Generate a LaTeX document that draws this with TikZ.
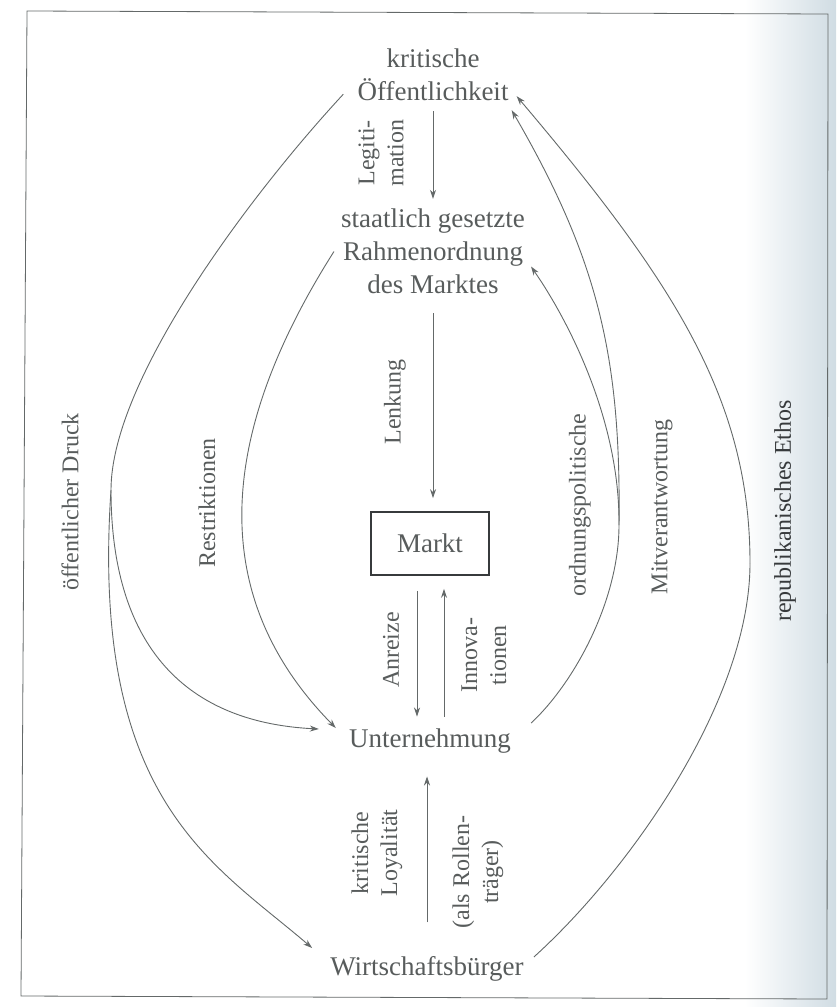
\documentclass[tikz,border=0pt]{standalone}
\usepackage{fontspec}
\setmainfont{Liberation Serif}
\usetikzlibrary{arrows.meta,calc}
\definecolor{txt}{RGB}{88,92,92}
\definecolor{ln}{RGB}{100,105,105}
\definecolor{dark}{RGB}{55,58,60}
\definecolor{pageblue}{RGB}{208,220,227}
\begin{document}
\begin{tikzpicture}[x=1pt,y=-1pt,
  every node/.style={text=txt, inner sep=0pt},
  big/.style={font=\fontsize{27}{33}\selectfont, align=center},
  lab/.style={font=\fontsize{24}{29}\selectfont, align=center, rotate=90},
  con/.style={draw=ln, line width=0.9pt},
  arr/.style={con, -{Stealth[length=9pt,width=6pt]}}]
\useasboundingbox (0,0) rectangle (836,1007);
\shade[left color=white, right color=pageblue] (745,0) rectangle (836,1007);
\draw[ln, line width=0.8pt] (27,11) -- (828,14) -- (827,999) -- (21,996) -- cycle;

% main nodes
\node[big] (Oe) at (433,75) {kritische\\Öffentlichkeit};
\node[big] (R) at (433,251.5) {staatlich gesetzte\\Rahmenordnung\\des Marktes};
\node[draw=dark, line width=1.6pt, minimum width=118pt, minimum height=63pt,
      font=\fontsize{27}{33}\selectfont] (M) at (430,543.5) {Markt};
\node[big] (U) at (430,741) {Unternehmung};
\node[big] (W) at (427,969) {Wirtschaftsbürger};

% straight arrows
\draw[arr, shorten <=10pt, shorten >=10pt] (Oe) -- (R);
\draw[arr, shorten <=19pt, shorten >=13pt] (R.south) -- (R.south |- M.north);
\draw[arr, shorten <=15pt, shorten >=12pt] ([xshift=-13pt]M.south) -- ([xshift=-13pt]M.south |- U.north);
\draw[arr, shorten <=12pt, shorten >=13pt] ([xshift=14pt]M.south |- U.north) -- ([xshift=14pt]M.south);
\draw[arr, shorten <=34pt, shorten >=23pt] (W.north) -- (W.north |- U.south);

% fork points
\coordinate (F) at (111,490);
\coordinate (G) at (619,525);
\coordinate (H) at (750,563);

% oeffentlicher Druck
\draw[con] ([xshift=-14pt,yshift=7pt]Oe.south west) .. controls (250,195) and (111,380) .. (F);
\draw[arr] (F) .. controls (111,640) and (180,722) .. ([xshift=-30pt,yshift=12pt]U.west);
\draw[arr] (F) .. controls (90,800) and (213,863) .. ([xshift=-18pt,yshift=21pt]W.west);

% Restriktionen
\draw[arr] ([xshift=-7pt]R.west) .. controls (215,439) and (208,598) .. ([xshift=-13pt,yshift=13pt]U.west);

% ordnungspolitische
\draw[con] ([xshift=20pt,yshift=18pt]U.east) .. controls (575,682) and (619,600) .. (G);
\draw[arr] (G) .. controls (620,420) and (568,320) .. ([xshift=6pt,yshift=-15pt]R.east);
\draw[arr] (G) .. controls (621,360) and (599.5,261.5) .. ([xshift=3pt,yshift=-9pt]Oe.south east);

% Mitverantwortung
\draw[con] ([xshift=10pt,yshift=12pt]W.east) .. controls (630,870) and (750,700) .. (H);
\draw[arr] (H) .. controls (750,400) and (674.5,282.5) .. ([xshift=8pt,yshift=5pt]Oe.south east);

% labels
\node[lab] (lLeg) at (381,153) {Legiti-\\mation};
\node[lab] (lLenk) at (395,402) {Lenkung};
\node[lab] (lAnr) at (391,650) {Anreize};
\node[lab] (lInn) at (484,655) {Innova-\\tionen};
\node[lab] (lLoy) at (377,853) {kritische\\Loyalität};
\node[lab] (lRol) at (478,872) {(als Rollen-\\träger)};
\node[lab] (lDruck) at (70,502) {öffentlicher Druck};
\node[lab] (lRes) at (207,503) {Restriktionen};
\node[lab] (lOrd) at (580,505) {ordnungspolitische};
\node[lab] (lMit) at (662,507) {Mitverantwortung};
\node[lab, text=dark] (lEth) at (785,511) {republikanisches Ethos};
\end{tikzpicture}
\end{document}
